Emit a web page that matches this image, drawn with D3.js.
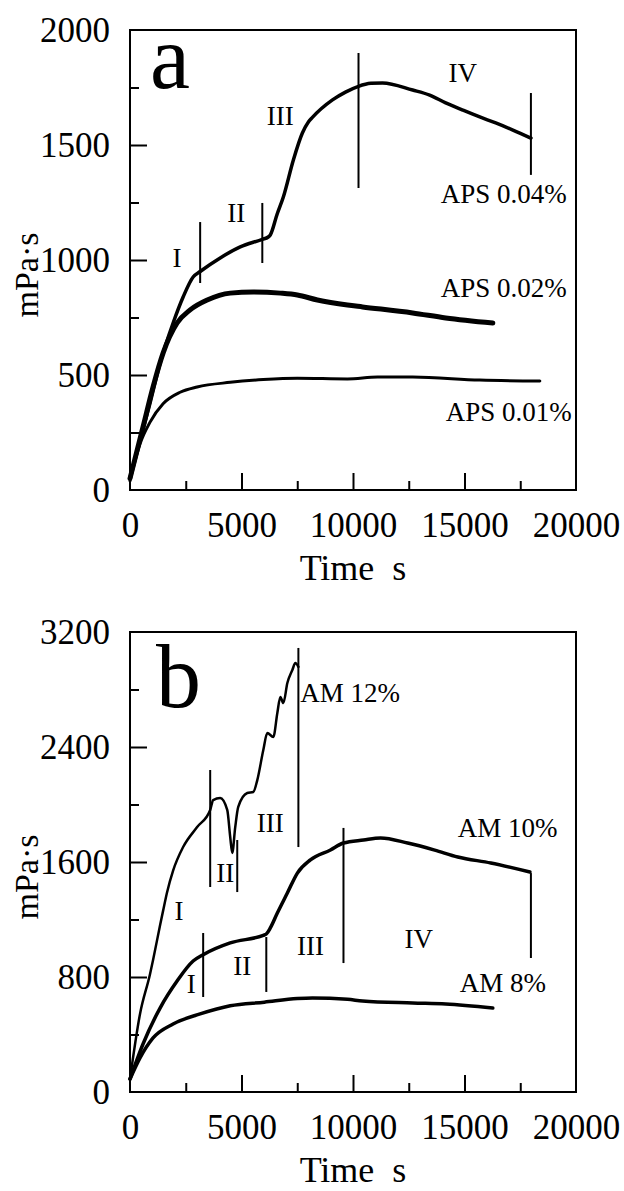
<!DOCTYPE html>
<html>
<head>
<meta charset="utf-8">
<script src="https://cdn.jsdelivr.net/npm/d3@7"></script>
<style>
  body { margin: 0; background: #fff; }
  svg { display: block; }
</style>
</head>
<body>
<div id="chart"></div>
<script>
// ---- data (time in s, viscosity in mPa·s) ----
const xTicks = [0, 5000, 10000, 15000, 20000];
const xMinor = [2500, 7500, 12500, 17500];

// panel a
const aYTicks = [0, 500, 1000, 1500, 2000];
const aYMinor = [250, 750, 1250, 1750];
const aps004 = [[0,55],[450,215],[899,378],[1350,552],[1933,726],[2382,839],[2831,926],[3146,950],
  [4045,1009],[4944,1057],[5933,1090],[6200,1100],[6292,1109],[6600,1200],[6876,1274],[7326,1435],
  [7730,1552],[8000,1600],[8180,1620],[9080,1696],[9663,1730],[10247,1755],[10800,1768],[11326,1770],
  [12674,1739],[13438,1717],[14157,1683],[14920,1652],[15685,1622],[16400,1596],[17170,1565],[17980,1530]];
const aps002 = [[0,50],[584,274],[1034,448],[1483,595],[2112,726],[2697,783],[3461,826],[4494,856],
  [5528,861],[6742,856],[7506,848],[8405,826],[9753,804],[10427,796],[12674,770],[14157,748],[16270,726]];
const aps001 = [[0,40],[449,200],[899,295],[1483,375],[2247,425],[3011,448],[4494,468],[5978,480],
  [7506,486],[9753,483],[11101,491],[12674,491],[15685,478],[18380,474]];
// vertical phase markers: [time, low, high]
const aMarkers = [[3146,900,1165],[5933,987,1248],[10247,1313,1900],[17978,1370,1726]];
// labels: [text, time, value, anchor, size]
const aLabels = [["a",899,1748,"start",90],["I",2112,970,"middle",27],["II",4764,1165,"middle",27],
  ["III",6742,1587,"middle",27],["IV",14921,1774,"middle",27],
  ["APS 0.04%",13933,1248,"start",27],["APS 0.02%",13933,839,"start",27],["APS 0.01%",14157,300,"start",27]];

// panel b
const bYTicks = [0, 800, 1600, 2400, 3200];
const bYMinor = [400, 1200, 2000, 2800];
const am12 = [[0,90],[449,543],[899,821],[1034,918],[1348,1160],[1483,1260],[1663,1390],
  [1933,1540],[2382,1704],[3011,1843],[3596,1962],[3730,2031],[4045,2045],[4360,1962],[4494,1774],
  [4584,1663],[4719,1843],[4854,1983],[5258,2080],[5528,2087],[5708,2170],[5978,2379],[6157,2497],
  [6427,2470],[6607,2637],[6742,2748],[6876,2706],[7056,2845],[7281,2936],[7416,2984],[7551,2957]];
const am10 = [[0,90],[584,334],[1348,584],[2112,772],[2831,911],[3281,955],[4494,1037],[5978,1090],
  [6112,1099],[6292,1141],[6607,1245],[7056,1384],[7506,1523],[8090,1614],[8989,1683],[9573,1732],
  [10472,1753],[11236,1767],[12449,1732],[13663,1683],[14697,1635],[16180,1593],[17933,1530]];
const am8 = [[0,90],[449,237],[1034,376],[1933,473],[3146,543],[4494,600],[6022,625],[7506,650],
  [8180,654],[9753,645],[10427,633],[12674,619],[14157,612],[16270,584]];
const bMarkers = [[3596,1426,2240],[4809,1391,1753],[7551,1704,3089],
  [3281,661,1106],[6112,696,1078],[9573,897,1837],[17978,932,1523]];
const bLabels = [["b",1169,2678,"start",90],["AM 12%",7640,2713,"start",27],["AM 10%",14697,1774,"start",27],
  ["AM 8%",14787,696,"start",27],["I",2202,1197,"middle",27],["II",4270,1461,"middle",27],
  ["III",6292,1809,"middle",27],["I",2742,689,"middle",27],["II",5034,814,"middle",27],
  ["III",8090,953,"middle",27],["IV",12944,1002,"middle",27]];

const SERIF = "'Liberation Serif', 'Times New Roman', Times, serif";
const W = 624, H = 1191;
const svg = d3.select("#chart").append("svg").attr("width", W).attr("height", H);

function panel(top, yMax, yTicks, yMinor, series, markers, labels) {
  const bottom = top + 460;
  const x = d3.scaleLinear().domain([0, 20000]).range([130, 576]);
  const y = d3.scaleLinear().domain([0, yMax]).range([bottom, top]);
  const g = svg.append("g");

  // axes with inward ticks
  const ax = g.append("g").attr("transform", `translate(0,${bottom})`)
    .call(d3.axisBottom(x).tickValues(xTicks).tickSize(-17).tickPadding(22).tickFormat(d3.format("d")));
  g.append("g").attr("transform", `translate(0,${bottom})`)
    .call(d3.axisBottom(x).tickValues(xMinor).tickSize(-9).tickFormat(""));
  const ay = g.append("g").attr("transform", "translate(130,0)")
    .call(d3.axisLeft(y).tickValues(yTicks).tickSize(-17).tickPadding(20).tickFormat(d3.format("d")));
  g.append("g").attr("transform", "translate(130,0)")
    .call(d3.axisLeft(y).tickValues(yMinor).tickSize(-9).tickFormat(""));
  g.selectAll(".domain").remove();
  g.selectAll(".tick line").attr("stroke", "#000").attr("stroke-width", 2);
  // hide ticks at the frame edges
  ax.selectAll(".tick").filter(d => d === 0 || d === 20000).select("line").remove();
  ay.selectAll(".tick").filter(d => d === 0 || d === yMax).select("line").remove();

  g.append("rect").attr("x", 130).attr("y", top).attr("width", 446).attr("height", 460)
    .attr("fill", "none").attr("stroke", "#000").attr("stroke-width", 2);

  const line = d3.line().x(d => x(d[0])).y(d => y(d[1])).curve(d3.curveMonotoneX);
  series.forEach(s => {
    g.append("path").datum(s.data).attr("d", line)
      .attr("fill", "none").attr("stroke", "#000").attr("stroke-width", s.w)
      .attr("stroke-linejoin", "round").attr("stroke-linecap", "round");
  });

  g.selectAll(".marker").data(markers).enter().append("line")
    .attr("x1", d => x(d[0])).attr("x2", d => x(d[0]))
    .attr("y1", d => y(d[1])).attr("y2", d => y(d[2]))
    .attr("stroke", "#000").attr("stroke-width", 2);

  g.selectAll(".lab").data(labels).enter().append("text")
    .attr("x", d => x(d[1])).attr("y", d => y(d[2]))
    .attr("text-anchor", d => d[3]).style("font-size", d => d[4] + "px")
    .text(d => d[0]);

  g.append("text").attr("transform", `translate(38,${bottom - 215}) rotate(-90)`)
    .attr("text-anchor", "middle").style("font-size", "34px").text("mPa·s");
  g.append("text").attr("x", 353).attr("y", bottom + 90)
    .attr("text-anchor", "middle").style("font-size", "36px")
    .style("white-space", "pre").text("Time  s");

  g.selectAll(".tick text").style("font-size", "35px");
  g.selectAll("text").style("font-family", SERIF).style("fill", "#000");
}

panel(30, 2000, aYTicks, aYMinor,
  [{data: aps004, w: 3.5}, {data: aps002, w: 5}, {data: aps001, w: 3}], aMarkers, aLabels);
panel(632, 3200, bYTicks, bYMinor,
  [{data: am12, w: 2.5}, {data: am10, w: 3.5}, {data: am8, w: 3.5}], bMarkers, bLabels);
</script>
</body>
</html>
